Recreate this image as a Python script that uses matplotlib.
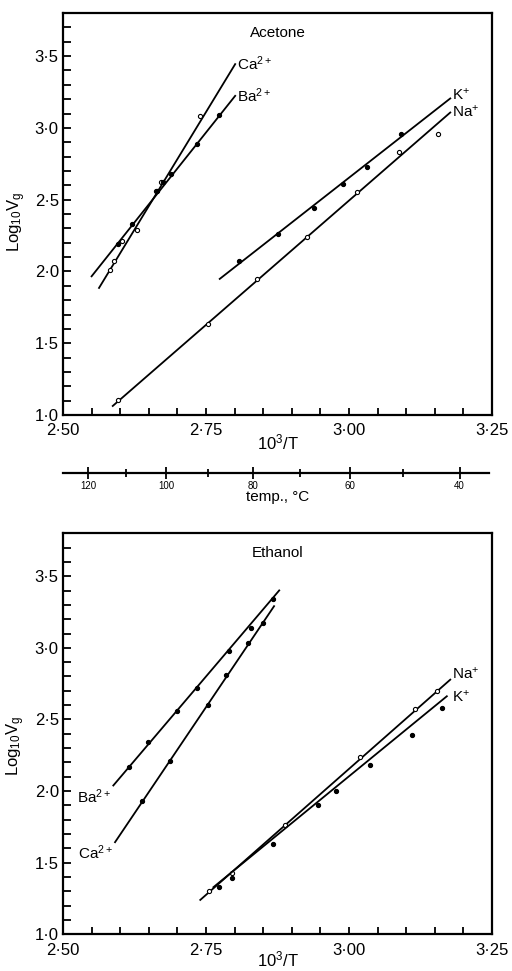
import numpy as np
import matplotlib
matplotlib.use('Agg')
import matplotlib.pyplot as plt
from matplotlib.ticker import FuncFormatter, MultipleLocator

plt.rcParams['font.family'] = ['Liberation Sans', 'DejaVu Sans']
plt.rcParams['mathtext.fontset'] = 'custom'
plt.rcParams['mathtext.rm'] = 'Liberation Sans'
plt.rcParams['mathtext.it'] = 'Liberation Sans'

# ---- Acetone (upper panel): measured points and fitted lines ----
ac_ca_x = [2.582, 2.590, 2.604, 2.630, 2.662, 2.672, 2.740]
ac_ca_y = [2.01, 2.07, 2.21, 2.29, 2.56, 2.62, 3.08]
ac_ca_fit = ([2.563, 2.801], [1.885, 3.444])

ac_ba_x = [2.597, 2.620, 2.664, 2.674, 2.688, 2.735, 2.773]
ac_ba_y = [2.19, 2.33, 2.56, 2.62, 2.68, 2.885, 3.09]
ac_ba_fit = ([2.550, 2.801], [1.966, 3.223])

ac_k_x = [2.808, 2.875, 2.938, 2.990, 3.031, 3.090]
ac_k_y = [2.07, 2.26, 2.44, 2.61, 2.73, 2.96]
ac_k_fit = ([2.774, 3.177], [1.948, 3.205])

ac_na_x = [2.597, 2.754, 2.839, 2.926, 3.014, 3.087, 3.156]
ac_na_y = [1.105, 1.636, 1.95, 2.24, 2.55, 2.83, 2.955]
ac_na_fit = ([2.587, 3.177], [1.063, 3.107])

# ---- Ethanol (lower panel) ----
et_ba_x = [2.616, 2.649, 2.700, 2.734, 2.790, 2.828, 2.868]
et_ba_y = [2.17, 2.34, 2.56, 2.72, 2.98, 3.14, 3.34]
et_ba_fit = ([2.588, 2.878], [2.039, 3.401])

et_ca_x = [2.639, 2.687, 2.754, 2.785, 2.824, 2.850]
et_ca_y = [1.93, 2.21, 2.60, 2.81, 3.035, 3.175]
et_ca_fit = ([2.591, 2.869], [1.643, 3.291])

et_na_x = [2.756, 2.796, 2.888, 3.020, 3.115, 3.154]
et_na_y = [1.30, 1.43, 1.76, 2.24, 2.57, 2.70]
et_na_fit = ([2.740, 3.177], [1.240, 2.778])

et_k_x = [2.772, 2.795, 2.868, 2.946, 2.978, 3.037, 3.110, 3.162]
et_k_y = [1.33, 1.39, 1.63, 1.90, 2.00, 2.18, 2.39, 2.58]
et_k_fit = ([2.763, 3.171], [1.329, 2.662])

temps_major = [120, 100, 80, 60, 40]
temps_minor = [110, 90, 70, 50]

fig = plt.figure(figsize=(5.12, 9.71), dpi=100)
ax1 = fig.add_axes([0.123, 0.5726, 0.838, 0.414])
ax2 = fig.add_axes([0.123, 0.0378, 0.838, 0.413])

dotfmt = FuncFormatter(lambda v, p: ('%.2f' % v).replace('.', '\u00b7'))
yfmt = FuncFormatter(lambda v, p: ('%.1f' % v).replace('.', '\u00b7'))


def style(ax):
    ax.set_xlim(2.50, 3.25)
    ax.set_ylim(1.0, 3.8)
    ax.xaxis.set_major_locator(MultipleLocator(0.25))
    ax.xaxis.set_minor_locator(MultipleLocator(0.05))
    ax.yaxis.set_major_locator(MultipleLocator(0.5))
    ax.yaxis.set_minor_locator(MultipleLocator(0.1))
    ax.xaxis.set_major_formatter(dotfmt)
    ax.yaxis.set_major_formatter(yfmt)
    ax.tick_params(which='both', direction='in', width=1.3, top=False, right=False)
    ax.tick_params(axis='x', which='both', length=5, pad=6, labelsize=12)
    ax.tick_params(axis='y', which='both', length=6, pad=3, labelsize=12)
    for s in ax.spines.values():
        s.set_linewidth(1.6)
    ax.set_xlabel('10$^{3}$/T', fontsize=12, labelpad=-4)
    ax.set_ylabel('Log$_{10}$V$_{\\mathrm{g}}$', fontsize=12)


def series(ax, x, y, fit, filled):
    ax.plot(fit[0], fit[1], color='black', lw=1.3)
    ax.plot(x, y, 'o', ms=3, mec='black', mew=0.8,
            mfc='black' if filled else 'white')


style(ax1)
series(ax1, ac_ca_x, ac_ca_y, ac_ca_fit, False)
series(ax1, ac_ba_x, ac_ba_y, ac_ba_fit, True)
series(ax1, ac_k_x, ac_k_y, ac_k_fit, True)
series(ax1, ac_na_x, ac_na_y, ac_na_fit, False)
ax1.text(2.805, 3.444, 'Ca$^{2+}$', fontsize=11, va='center')
ax1.text(2.805, 3.223, 'Ba$^{2+}$', fontsize=11, va='center')
ax1.text(3.180, 3.23, 'K$^{+}$', fontsize=11, va='center')
ax1.text(3.180, 3.11, 'Na$^{+}$', fontsize=11, va='center')
ax1.text(0.5, 0.94, 'Acetone', transform=ax1.transAxes, ha='center', fontsize=11)
ax1.yaxis.set_label_coords(-0.082, 0.48)

style(ax2)
ax2.xaxis.labelpad = -6
series(ax2, et_ba_x, et_ba_y, et_ba_fit, True)
series(ax2, et_ca_x, et_ca_y, et_ca_fit, True)
series(ax2, et_na_x, et_na_y, et_na_fit, False)
series(ax2, et_k_x, et_k_y, et_k_fit, True)
ax2.text(2.584, 1.96, 'Ba$^{2+}$', fontsize=11, ha='right', va='center')
ax2.text(2.587, 1.57, 'Ca$^{2+}$', fontsize=11, ha='right', va='center')
ax2.text(3.180, 2.82, 'Na$^{+}$', fontsize=11, va='center')
ax2.text(3.180, 2.66, 'K$^{+}$', fontsize=11, va='center')
ax2.text(0.5, 0.94, 'Ethanol', transform=ax2.transAxes, ha='center', fontsize=11)
ax2.yaxis.set_label_coords(-0.084, 0.47)

# temperature scale between the panels
axt = fig.add_axes([0.123, 1 - 472.7 / 971, 0.838, 0.0001])
axt.set_xlim(2.50, 3.25)
axt.set_yticks([])
for k in ['top', 'left', 'right']:
    axt.spines[k].set_visible(False)
axt.spines['bottom'].set_linewidth(1.6)
axt.spines['bottom'].set_bounds(2.50, 3.245)
axt.set_xticks([1000.0 / (t + 273.15) for t in temps_major])
axt.set_xticklabels([str(t) for t in temps_major])
axt.set_xticks([1000.0 / (t + 273.15) for t in temps_minor], minor=True)
axt.tick_params(which='major', direction='inout', length=8, width=1.3, labelsize=7, pad=2)
axt.tick_params(which='minor', direction='inout', length=6, width=1.3)
axt.set_xlabel('temp., \u00b0C', fontsize=11, labelpad=-1)
axt.patch.set_visible(False)

fig.savefig('out.png', dpi=100)
